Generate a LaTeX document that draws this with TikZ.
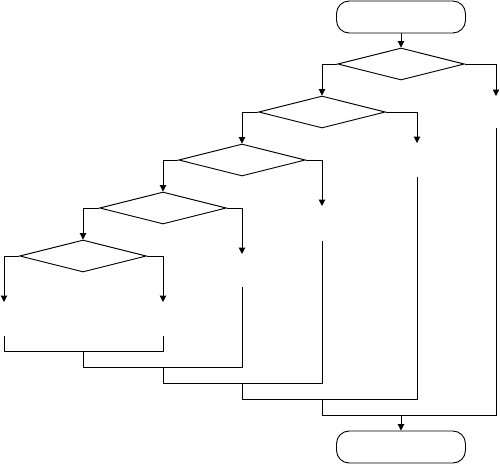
\documentclass[tikz,border=0pt]{standalone}
\usepackage{tikz}
\usetikzlibrary{shapes.geometric,arrows.meta}

\begin{document}
\begin{tikzpicture}[
    x=0.03cm, y=-0.03cm,
    line width=0.8pt,
    terminal/.style={draw, rectangle, rounded corners=0.38cm, minimum width=3.87cm, minimum height=0.96cm, inner sep=0pt},
    decision/.style={draw, diamond, minimum width=3.8cm, minimum height=0.96cm, inner sep=0pt},
    flow/.style={-{Triangle[length=5.5pt,width=5.5pt]}}
]
\useasboundingbox (0,0) rectangle (500,463);

% terminals
\node[terminal] (start) at (401,17)  {};
\node[terminal] (stop)  at (401,447) {};

% decisions
\node[decision] (d1) at (401,64)  {};
\node[decision] (d2) at (322,112) {};
\node[decision] (d3) at (242,160) {};
\node[decision] (d4) at (163,208) {};
\node[decision] (d5) at (83,256)  {};

% ends of the branches (arrow tips and where the lines go on)
\coordinate (r1in) at (496,96);  \coordinate (r1out) at (496,128);
\coordinate (r2in) at (417,143); \coordinate (r2out) at (417,177);
\coordinate (r3in) at (322,206); \coordinate (r3out) at (322,241);
\coordinate (r4in) at (242,254); \coordinate (r4out) at (242,287);
\coordinate (r5in) at (163,302); \coordinate (r5out) at (163,336);
\coordinate (l5in) at (4,302);   \coordinate (l5out) at (4,336);

% joins
\coordinate (m1) at (83,351);
\coordinate (m2) at (163,367);
\coordinate (m3) at (242,383);
\coordinate (m4) at (322,399);
\coordinate (m5) at (401,415);

% start to first decision
\draw[flow] (start) -- (d1);

% no branches down the steps
\draw[flow] (d1.west) -| (d2.north);
\draw[flow] (d2.west) -| (d3.north);
\draw[flow] (d3.west) -| (d4.north);
\draw[flow] (d4.west) -| (d5.north);

% yes branches
\draw[flow] (d1.east) -| (r1in);
\draw[flow] (d2.east) -| (r2in);
\draw[flow] (d3.east) -| (r3in);
\draw[flow] (d4.east) -| (r4in);
\draw[flow] (d5.east) -| (r5in);
\draw[flow] (d5.west) -| (l5in);

% lines coming together
\draw (l5out) |- (r5out |- m1) -- (r5out);
\draw (m1) |- (r4out |- m2) -- (r4out);
\draw (m2) |- (r3out |- m3) -- (r3out);
\draw (m3) |- (r2out |- m4) -- (r2out);
\draw (m4) |- (r1out |- m5) -- (r1out);

% to the end
\draw[flow] (m5) -- (stop);

\end{tikzpicture}
\end{document}
